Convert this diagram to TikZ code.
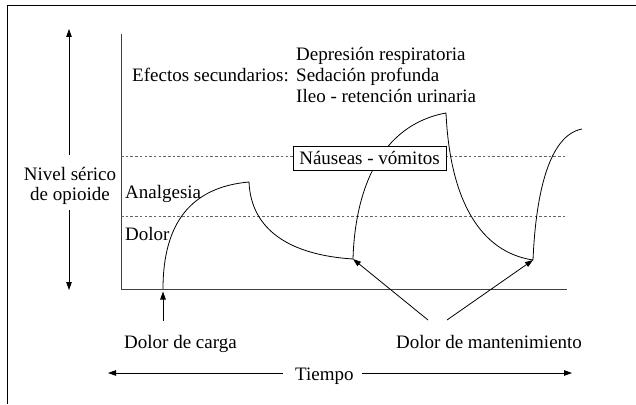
\documentclass[tikz,border=0pt]{standalone}
\usepackage{fontspec}
\setmainfont{Liberation Serif}
\usetikzlibrary{arrows.meta}
\begin{document}
\begin{tikzpicture}[x=1pt,y=-1pt,
  txt/.style={font=\fontsize{19}{21}\selectfont, inner sep=0pt, anchor=base west},
  axis/.style={draw=black!75, line width=0.9pt},
  level/.style={draw=black!60, line width=0.8pt, dash pattern=on 2.5pt off 2.2pt},
  curve/.style={draw=black, line width=0.8pt},
  arr/.style={draw=black, line width=0.8pt, -{Triangle[length=8pt,width=5.5pt]}},
  frame/.style={draw=black, line width=1pt}]
\useasboundingbox (0,0) rectangle (636,404);
% frame
\coordinate (f1) at (7,404);
\coordinate (f2) at (7,6);
\coordinate (f3) at (636,6);
\draw[frame] (f1) -- (f2) -- (f3);
% axes
\coordinate (o) at (121,289);
\coordinate (ytop) at (121,34);
\coordinate (xend) at (567,289);
\draw[axis] (ytop) -- (o) -- (xend);
% level lines
\coordinate (u1) at (121,156);
\coordinate (u2) at (565,156);
\coordinate (l1) at (121,216);
\coordinate (l2) at (565,216);
\draw[level] (u1) -- (u2);
\draw[level] (l1) -- (l2);
% curve points
\coordinate (c0) at (163,289);
\coordinate (c1) at (249,182);
\coordinate (c2) at (353,259);
\coordinate (c3) at (446,113);
\coordinate (c4) at (533,260);
\coordinate (c5) at (582,129);
\draw[curve] (c0) .. controls (163,222) and (192,187) .. (c1)
  .. controls (251,230) and (290,255) .. (c2)
  .. controls (355,190) and (380,125) .. (c3)
  .. controls (450,200) and (480,252) .. (c4)
  .. controls (536,190) and (550,135) .. (c5);
% box
\node[draw=black, line width=0.8pt, fill=white, minimum width=153pt, minimum height=24pt, inner sep=0pt,
  font=\fontsize{19}{21}\selectfont] (nau) at (369.5,158) {Náuseas - vómitos};
% texts
\node[txt] (efe) at (132,81) {Efectos secundarios:};
\node[txt] (dep) at (296,60) {Depresión respiratoria};
\node[txt] (sed) at (296,81) {Sedación profunda};
\node[txt] (ileo) at (296,102) {Ileo - retención urinaria};
\node[txt, anchor=base] (niv1) at (70,180) {Nivel sérico};
\node[txt, anchor=base] (niv2) at (70,200) {de opioide};
\node[txt] (ana) at (125,198) {Analgesia};
\node[txt] (dol) at (125,240) {Dolor};
\node[txt] (carga) at (124,348) {Dolor de carga};
\node[txt] (mant) at (396,348) {Dolor de mantenimiento};
\node[txt] (tiempo) at (295,380) {Tiempo};
% vertical level arrows
\coordinate (va1) at (69,155);
\coordinate (va2) at (69,29);
\coordinate (vb1) at (69,210);
\coordinate (vb2) at (69,290);
\draw[arr] (va1) -- (va2);
\draw[arr] (vb1) -- (vb2);
% time arrows
\coordinate (ta1) at (283,373);
\coordinate (ta2) at (108,373);
\coordinate (tb1) at (362,373);
\coordinate (tb2) at (572,373);
\draw[arr] (ta1) -- (ta2);
\draw[arr] (tb1) -- (tb2);
% loading arrow
\coordinate (la) at (163,321);
\draw[arr] (la) -- (163,291.5);
% maintenance arrows
\coordinate (ma1) at (428,320);
\coordinate (ma2) at (447,320);
\draw[arr] (ma1) -- (c2);
\draw[arr] (ma2) -- (c4);
\end{tikzpicture}
\end{document}
